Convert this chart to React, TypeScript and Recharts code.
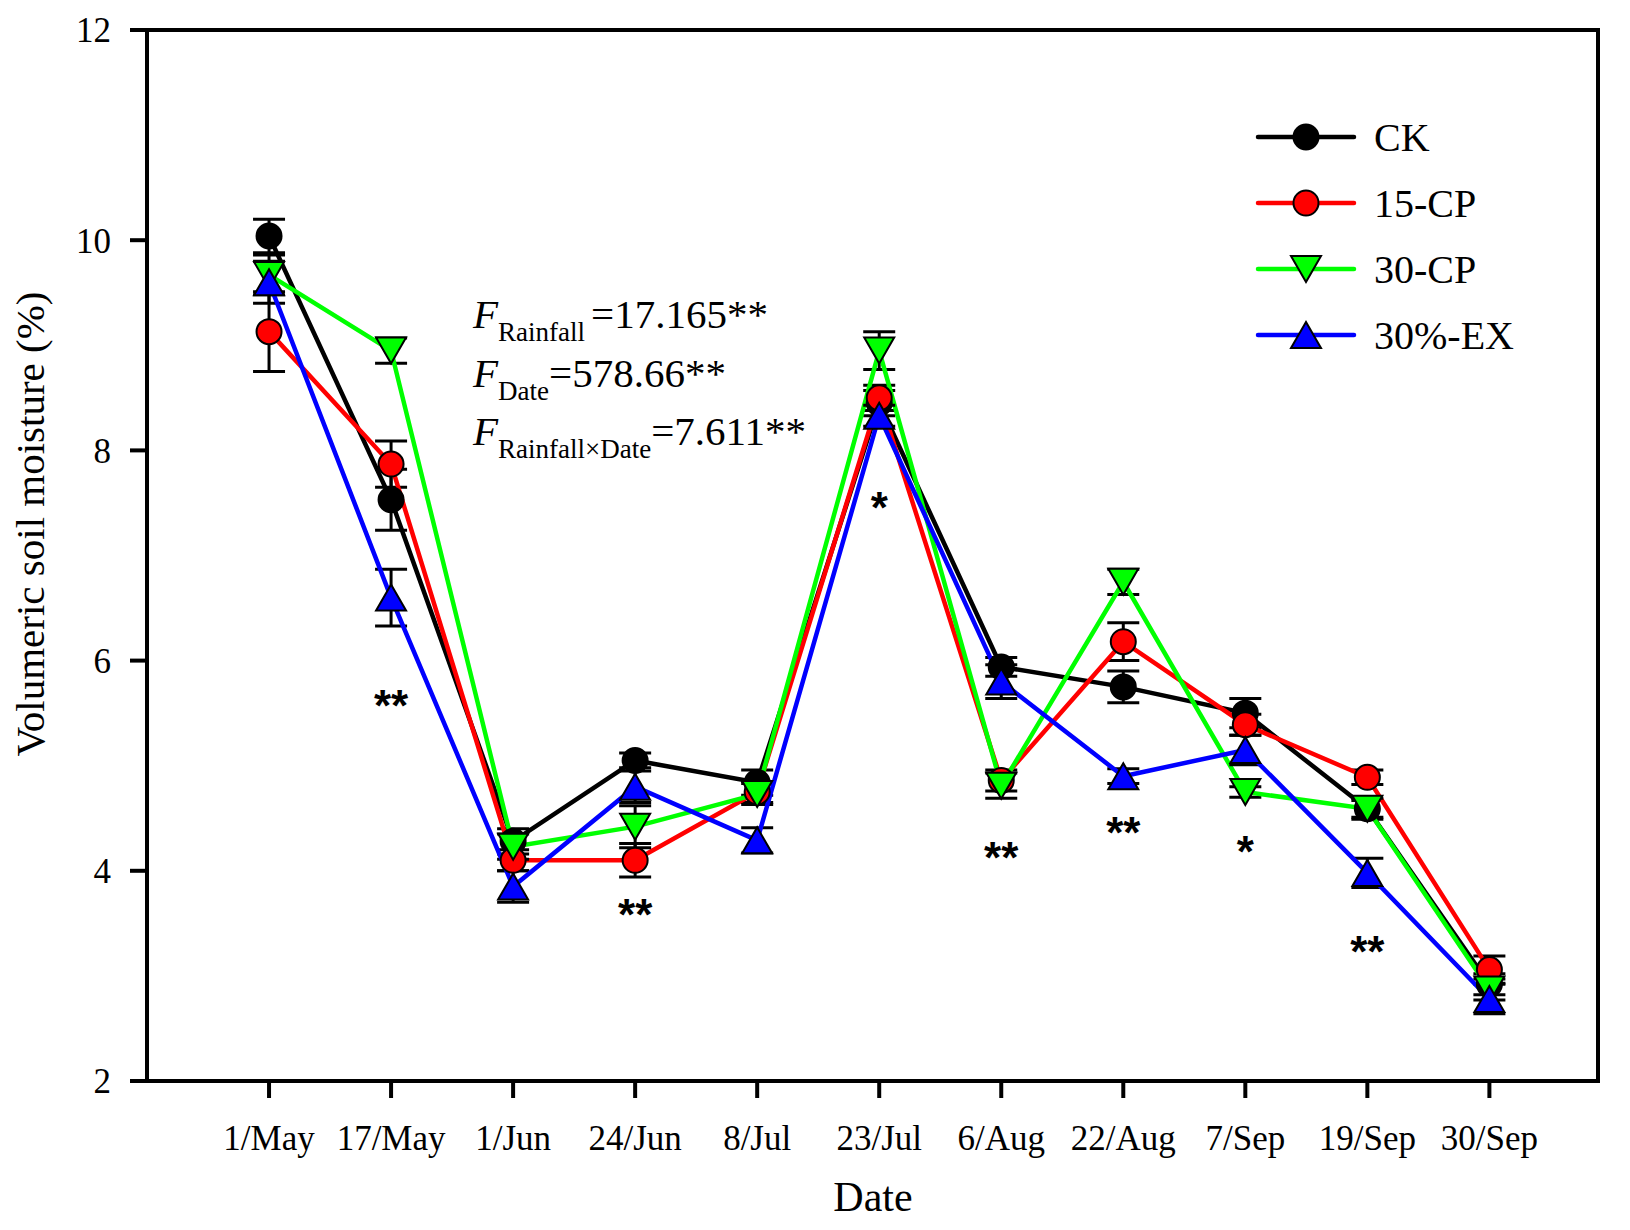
import React from 'react';
import { LineChart, Line, XAxis, YAxis, ErrorBar, Legend, ReferenceArea } from 'recharts';

// sampling dates
const dates = ['1/May', '17/May', '1/Jun', '24/Jun', '8/Jul', '23/Jul', '6/Aug', '22/Aug', '7/Sep', '19/Sep', '30/Sep'];

// volumetric soil moisture (%) and error (SE) per treatment
const ck = [10.04, 7.53, 4.28, 5.05, 4.84, 8.45, 5.94, 5.75, 5.5, 4.59, 2.92];
const ckSe = [0.16, 0.29, 0.12, 0.07, 0.12, 0.12, 0.09, 0.15, 0.14, 0.08, 0.1];
const cp15 = [9.13, 7.87, 4.1, 4.1, 4.75, 8.5, 4.86, 6.18, 5.39, 4.89, 3.06];
const cp15Se = [0.38, 0.22, 0.1, 0.16, 0.1, 0.12, 0.1, 0.18, 0.1, 0.07, 0.13];
const cp30 = [9.67, 8.95, 4.23, 4.42, 4.73, 8.95, 4.81, 6.75, 4.75, 4.59, 2.87];
const cp30Se = [0.19, 0.12, 0.12, 0.2, 0.1, 0.18, 0.12, 0.12, 0.05, 0.1, 0.1];
const ex30 = [9.6, 6.6, 3.85, 4.8, 4.29, 8.33, 5.8, 4.9, 5.15, 3.98, 2.78];
const ex30Se = [0.2, 0.27, 0.15, 0.15, 0.12, 0.1, 0.16, 0.07, 0.14, 0.14, 0.14];

// significance marks and where they sit
const sigMark = ['', '**', '', '**', '', '*', '**', '**', '*', '**', ''];
const sigY = [null, 5.68, null, 3.69, null, 7.56, 4.23, 4.47, 4.29, 3.34, null];

const yTicks = [2, 4, 6, 8, 10, 12];
// dates sit at positions 1..11 on the x axis
const xTicks = dates.map((_, i) => i + 1);
const X_MAX = 11.89;

const data = dates.map((date, i) => ({
  pos: i + 1,
  date,
  ck: ck[i], ckSe: ckSe[i],
  cp15: cp15[i], cp15Se: cp15Se[i],
  cp30: cp30[i], cp30Se: cp30Se[i],
  ex30: ex30[i], ex30Se: ex30Se[i],
  sigY: sigY[i], sig: sigMark[i],
}));

const SERIES = [
  { key: 'ck', err: 'ckSe', name: 'CK', color: '#000000', marker: 'circle' },
  { key: 'cp15', err: 'cp15Se', name: '15-CP', color: '#ff0000', marker: 'circle' },
  { key: 'cp30', err: 'cp30Se', name: '30-CP', color: '#00ff00', marker: 'down' },
  { key: 'ex30', err: 'ex30Se', name: '30%-EX', color: '#0000ff', marker: 'up' },
];

const SERIF = "'Liberation Serif', 'Times New Roman', serif";
const W = 1614;
const H = 1214;

function Marker({ type, cx, cy, fill }: { type: string; cx: number; cy: number; fill: string }) {
  if (type === 'circle') {
    return <circle cx={cx} cy={cy} r={12.5} fill={fill} stroke="#000" strokeWidth={2} />;
  }
  const hw = 15;
  const hh = 13;
  const pts = type === 'down'
    ? `${cx - hw},${cy - hh} ${cx + hw},${cy - hh} ${cx},${cy + hh}`
    : `${cx - hw},${cy + hh} ${cx + hw},${cy + hh} ${cx},${cy - hh}`;
  return <polygon points={pts} fill={fill} stroke="#000" strokeWidth={2} strokeLinejoin="miter" />;
}

const makeDot = (s: typeof SERIES[number]) => (p: any) => {
  if (p.cx == null || p.cy == null) return <g key={`${s.key}-${p.index}`} />;
  return (
    <g key={`${s.key}-${p.index}`}>
      <Marker type={s.marker} cx={p.cx} cy={p.cy} fill={s.color} />
    </g>
  );
};

const renderSig = (p: any) => {
  const mark = p.payload && p.payload.sig;
  if (p.cx == null || p.cy == null || !mark) return <g key={`sig-${p.index}`} />;
  return (
    <text
      key={`sig-${p.index}`}
      x={p.cx}
      y={p.cy}
      dy="0.6em"
      textAnchor="middle"
      fontFamily="'Liberation Sans', Arial, sans-serif"
      fontWeight="bold"
      fontSize={44}
      fill="#000"
    >
      {mark}
    </text>
  );
};

function LegendBox(props: any) {
  const present = new Set((props.payload || []).map((e: any) => e.dataKey));
  const rows = SERIES.filter((s) => present.has(s.key));
  return (
    <svg width={320} height={300}>
      {rows.map((s, i) => {
        const y = 34 + i * 66;
        return (
          <g key={s.key}>
            <line x1={10} y1={y} x2={106} y2={y} stroke={s.color} strokeWidth={4.5} strokeLinecap="round" />
            <Marker type={s.marker} cx={58} cy={y} fill={s.color} />
            <text x={126} y={y} dy="0.35em" fontFamily={SERIF} fontSize={40} fill="#000">
              {s.name}
            </text>
          </g>
        );
      })}
    </svg>
  );
}

export default function App() {
  const axisStroke = { stroke: '#000', strokeWidth: 4 };
  const tickStyle = { fill: '#000', fontSize: 35, fontFamily: SERIF };
  return (
    <div style={{ position: 'relative', width: W, height: H }}>
      <LineChart
        width={W}
        height={H}
        data={data}
        margin={{ top: 22, right: 24, bottom: 41, left: 39 }}
      >
        {/* plot frame */}
        <ReferenceArea
          x1={0}
          x2={X_MAX}
          y1={2}
          y2={12}
          fill="none"
          fillOpacity={0}
          stroke="#000"
          strokeWidth={4}
          ifOverflow="visible"
        />
        <XAxis
          dataKey="pos"
          type="number"
          domain={[0, X_MAX]}
          ticks={xTicks}
          interval={0}
          allowDataOverflow
          tickFormatter={(v: number) => dates[v - 1] ?? ''}
          height={100}
          axisLine={axisStroke}
          tickLine={axisStroke}
          tickSize={17}
          tickMargin={27}
          tick={tickStyle}
        />
        <YAxis
          type="number"
          domain={[2, 12]}
          ticks={yTicks}
          interval={0}
          width={100}
          allowDataOverflow
          axisLine={axisStroke}
          tickLine={axisStroke}
          tickSize={17}
          tickMargin={19}
          tick={tickStyle}
        />
        {SERIES.map((s) => (
          <Line
            key={s.key}
            dataKey={s.key}
            name={s.name}
            stroke={s.color}
            strokeWidth={4.5}
            dot={makeDot(s)}
            activeDot={false}
            isAnimationActive={false}
          >
            <ErrorBar dataKey={s.err} width={16} stroke="#000" strokeWidth={3} direction="y" />
          </Line>
        ))}
        <Line
          dataKey="sigY"
          stroke="none"
          legendType="none"
          dot={renderSig}
          activeDot={false}
          isAnimationActive={false}
        />
        <Legend
          layout="vertical"
          align="center"
          verticalAlign="middle"
          content={<LegendBox />}
          wrapperStyle={{ left: 1240, top: 95, width: 320, height: 300 }}
        />
      </LineChart>
      <svg
        width={W}
        height={H}
        style={{ position: 'absolute', left: 0, top: 0, pointerEvents: 'none' }}
      >
        <text
          x={36}
          y={516}
          transform="rotate(-90, 36, 516)"
          textAnchor="middle"
          fontFamily={SERIF}
          fontSize={41}
          fill="#000"
        >
          Volumeric soil moisture (%)
        </text>
        <text x={865} y={1203} textAnchor="middle" fontFamily={SERIF} fontSize={42} fill="#000">
          Date
        </text>
        <g fontFamily={SERIF} fontSize={41} fill="#000">
          <text x={465} y={320}>
            <tspan fontStyle="italic">F</tspan>
            <tspan fontSize={27} dy={13}>Rainfall</tspan>
            <tspan dy={-13} dx={6}>=17.165**</tspan>
          </text>
          <text x={465} y={379}>
            <tspan fontStyle="italic">F</tspan>
            <tspan fontSize={27} dy={13}>Date</tspan>
            <tspan dy={-13}>=578.66**</tspan>
          </text>
          <text x={465} y={437}>
            <tspan fontStyle="italic">F</tspan>
            <tspan fontSize={27} dy={13}>Rainfall×Date</tspan>
            <tspan dy={-13}>=7.611**</tspan>
          </text>
        </g>
      </svg>
    </div>
  );
}
